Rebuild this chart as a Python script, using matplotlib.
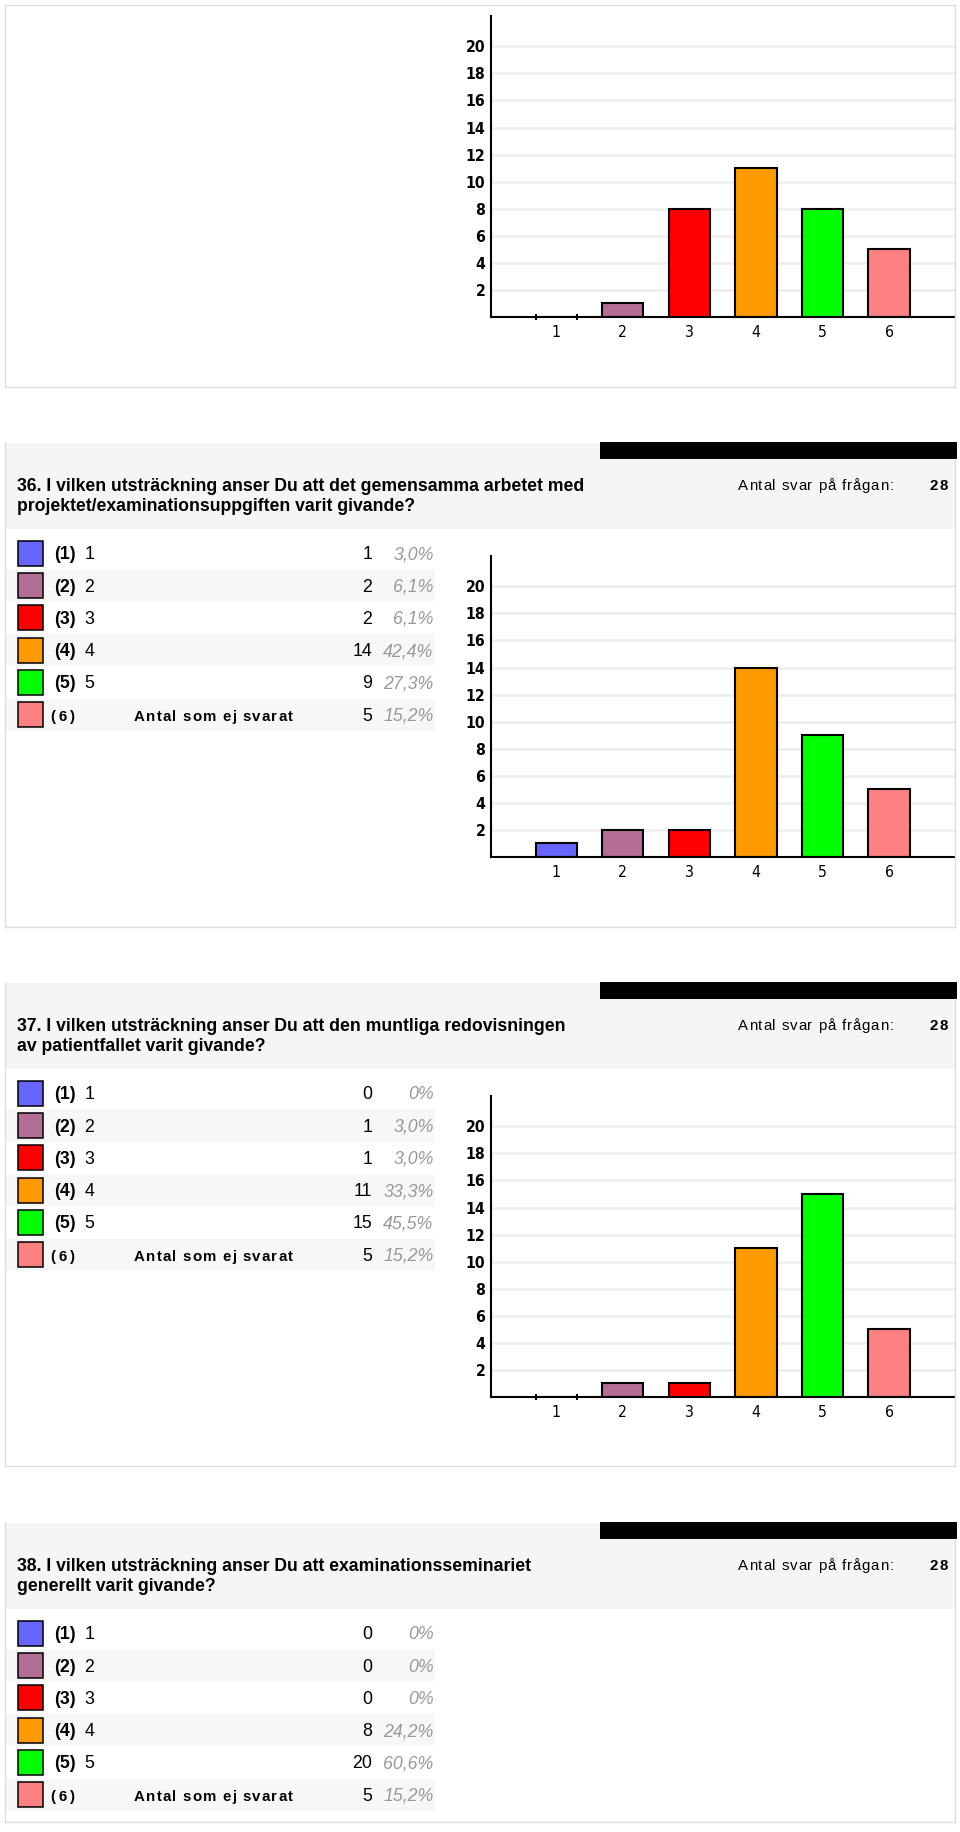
import matplotlib
matplotlib.use('Agg')
import matplotlib.pyplot as plt
from matplotlib.patches import Rectangle
from matplotlib.lines import Line2D
from matplotlib.font_manager import FontProperties, fontManager

# ---------------- data ----------------
categories = ['1', '2', '3', '4', '5', '6']
bar_colors = ['#6666ff', '#b46e96', '#ff0000', '#ff9900', '#00ff00', '#ff8080']
y_ticks = [2, 4, 6, 8, 10, 12, 14, 16, 18, 20]

q35_counts = [0, 1, 8, 11, 8, 5]

q36_title = ['36. I vilken utsträckning anser Du att det gemensamma arbetet med',
             'projektet/examinationsuppgiften varit givande?']
q36_counts = [1, 2, 2, 14, 9, 5]
q36_pct = ['3,0%', '6,1%', '6,1%', '42,4%', '27,3%', '15,2%']

q37_title = ['37. I vilken utsträckning anser Du att den muntliga redovisningen',
             'av patientfallet varit givande?']
q37_counts = [0, 1, 1, 11, 15, 5]
q37_pct = ['0%', '3,0%', '3,0%', '33,3%', '45,5%', '15,2%']

q38_title = ['38. I vilken utsträckning anser Du att examinationsseminariet',
             'generellt varit givande?']
q38_counts = [0, 0, 0, 8, 20, 5]
q38_pct = ['0%', '0%', '0%', '24,2%', '60,6%', '15,2%']

answer_label = 'Antal svar på frågan:'
answered = 28
no_answer_code = '(6)'
no_answer_label = 'Antal som ej svarat'

# ---------------- setup ----------------
W, H = 960, 1832
fig = plt.figure(figsize=(W / 100, H / 100), dpi=100)
fig.patch.set_facecolor('white')
renderer = fig.canvas.get_renderer()

names = {f.name for f in fontManager.ttflist}
SANS = 'Liberation Sans' if 'Liberation Sans' in names else 'DejaVu Sans'
if 'Liberation Sans Narrow' in names:
    TICK_FAMILY, TICK_STRETCH = 'Liberation Sans Narrow', 'normal'
elif any(f.name == 'DejaVu Sans' and str(f.stretch) in ('condensed', 'semi-condensed')
         for f in fontManager.ttflist):
    TICK_FAMILY, TICK_STRETCH = 'DejaVu Sans', 'condensed'
else:
    TICK_FAMILY, TICK_STRETCH = SANS, 'normal'


def X(px):
    return px / W


def Y(py):
    return 1 - py / H


def rect(x0, y0, x1, y1, fc, ec='none', lw=0.0, z=1):
    fig.add_artist(Rectangle((X(x0), Y(y1)), (x1 - x0) / W, (y1 - y0) / H,
                             transform=fig.transFigure, facecolor=fc,
                             edgecolor=ec, linewidth=lw, zorder=z))


def hline(x0, x1, y, color='#dddddd', lw=1.0):
    fig.add_artist(Line2D([X(x0), X(x1)], [Y(y), Y(y)], transform=fig.transFigure,
                          color=color, linewidth=lw, zorder=2))


def vline(x, y0, y1, color='#dddddd', lw=1.0):
    fig.add_artist(Line2D([X(x), X(x)], [Y(y0), Y(y1)], transform=fig.transFigure,
                          color=color, linewidth=lw, zorder=2))


def fp(size, weight='normal', style='normal', family=None):
    return FontProperties(family=family or SANS, size=size, weight=weight, style=style)


def width(s, prop):
    w, h, d = renderer.get_text_width_height_descent(s, prop, ismath=False)
    return w


def advance(c, prop):
    return width('x' + c + 'x', prop) - width('xx', prop)


def spaced(x, y, s, prop, target_w, color='black'):
    advs = [advance(c, prop) for c in s]
    sp = (target_w - sum(advs)) / max(len(s) - 1, 1)
    cx = x
    for c, a in zip(s, advs):
        if c != ' ':
            fig.text(X(cx), Y(y), c, fontproperties=prop, va='baseline', ha='left',
                     color=color)
        cx += a + sp


# font sizes
probe = fp(12, 'bold')
title_size = 12 * 563 / width(q36_title[0], probe)
TITLE = fp(title_size, 'bold')
LBL_B = fp(12.8, 'bold')
LBL = fp(12.8)
PCT = fp(12.8, style='italic')
SMALL = fp(10.8)
SMALL_B = fp(10.8, 'bold')
TICK_Y = FontProperties(family=TICK_FAMILY, size=11.3, weight='bold', stretch=TICK_STRETCH)
TICK_X = FontProperties(family=TICK_FAMILY, size=11.3, weight='normal', stretch=TICK_STRETCH)


def draw_frame(off, bottom, title):
    rect(5, 443 + off, 955, 529 + off, '#f5f5f5')
    rect(600, 442 + off, 957, 459 + off, 'black', z=1.5)
    vline(5, 443 + off, bottom)
    vline(955, 459 + off, bottom)
    hline(5, 955, bottom)
    fig.text(X(17), Y(491 + off), title[0], fontproperties=TITLE, va='baseline')
    fig.text(X(17), Y(511 + off), title[1], fontproperties=TITLE, va='baseline')
    spaced(737.7, 490 + off, answer_label, SMALL, 155.6)
    spaced(929.3, 490 + off, str(answered), SMALL_B, 19.0)


def draw_legend(off, counts, pcts):
    for i in range(6):
        cy = 553.3 + 32.3 * i + off
        if i % 2 == 1:
            rect(5, cy - 16.2, 435, cy + 16.2, '#f7f7f7')
        rect(17.7, cy - 12.5, 43.3, cy + 12.5, bar_colors[i], 'black', 1.1, z=2)
        base = cy + 6
        if i < 5:
            fig.text(X(54), Y(base), f'({i + 1})', fontproperties=LBL_B, va='baseline')
            fig.text(X(84.5), Y(base), categories[i], fontproperties=LBL, va='baseline')
        else:
            spaced(50.7, base, no_answer_code, SMALL_B, 24.3)
            spaced(134, base, no_answer_label, SMALL_B, 159.0)
        fig.text(X(372), Y(base), str(counts[i]), fontproperties=LBL, va='baseline',
                 ha='right')
        fig.text(X(433.5), Y(base), pcts[i], fontproperties=PCT, va='baseline',
                 ha='right', color='#999999')


def draw_chart(off, counts):
    left, right, top, bottom = 491, 955, 556 + off, 857 + off
    ax = fig.add_axes([X(left), Y(bottom), (right - left) / W, (bottom - top) / H])
    ax.patch.set_visible(False)
    xpos = list(range(1, len(categories) + 1))
    bw = 0.62
    ax.bar(xpos, counts, width=bw, color=bar_colors, edgecolor='black',
           linewidth=1.5, zorder=3)
    for xv, c in zip(xpos, counts):
        if c == 0:
            ax.vlines([xv - bw / 2, xv + bw / 2], -0.22, 0.25, color='black',
                      linewidth=1.5, clip_on=False, zorder=4)
    ax.set_xlim(0.02, 6.99)
    ax.set_ylim(0, 22.24)
    ax.set_yticks(y_ticks)
    ax.set_yticklabels([str(t) for t in y_ticks], fontproperties=TICK_Y)
    ax.set_xticks(xpos)
    ax.set_xticklabels(categories, fontproperties=TICK_X)
    ax.yaxis.grid(True, color='#eeeeee', linewidth=1.9)
    ax.set_axisbelow(True)
    for s in ('top', 'right'):
        ax.spines[s].set_visible(False)
    for s in ('left', 'bottom'):
        ax.spines[s].set_linewidth(1.5)
        ax.spines[s].set_color('black')
        ax.spines[s].set_zorder(5)
    ax.tick_params(axis='y', length=0, pad=4)
    ax.tick_params(axis='x', length=0, pad=6)
    return ax


# ---------------- panel Q35 (only chart visible) ----------------
off35 = -540
hline(5, 955, 5)
vline(5, 5, 387)
vline(955, 5, 387)
hline(5, 955, 387)
draw_chart(off35, q35_counts)

# ---------------- panel Q36 ----------------
draw_frame(0, 927, q36_title)
draw_legend(0, q36_counts, q36_pct)
draw_chart(0, q36_counts)

# ---------------- panel Q37 ----------------
draw_frame(540, 1466, q37_title)
draw_legend(540, q37_counts, q37_pct)
draw_chart(540, q37_counts)

# ---------------- panel Q38 (chart cut off) ----------------
draw_frame(1080, 1822, q38_title)
draw_legend(1080, q38_counts, q38_pct)

fig.savefig('out.png', dpi=100, facecolor='white')
